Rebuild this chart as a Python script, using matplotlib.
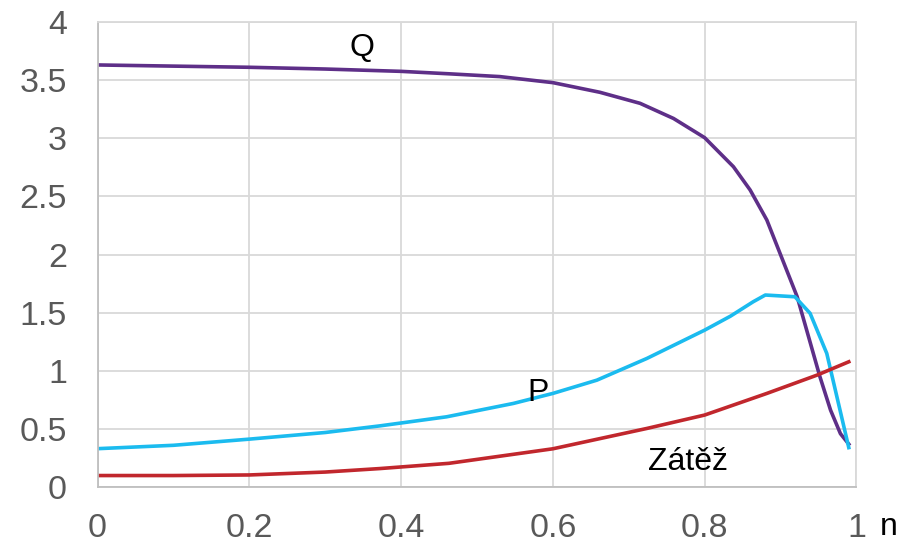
import matplotlib.pyplot as plt

plt.rcParams['font.family'] = ['Liberation Sans', 'DejaVu Sans']

# Q curve
q_n = [0.0, 0.1, 0.2, 0.3, 0.4, 0.463, 0.53, 0.6, 0.662, 0.715, 0.759, 0.8,
       0.838, 0.86, 0.882, 0.922, 0.952, 0.966, 0.979, 0.99]
q_val = [3.63, 3.62, 3.61, 3.595, 3.575, 3.554, 3.53, 3.478, 3.395, 3.30, 3.17, 3.005,
         2.755, 2.555, 2.297, 1.637, 0.949, 0.662, 0.46, 0.37]

# P curve
p_n = [0.0, 0.1, 0.2, 0.3, 0.372, 0.46, 0.548, 0.6, 0.658, 0.724, 0.8,
       0.834, 0.864, 0.88, 0.919, 0.939, 0.961, 0.99]
p_val = [0.331, 0.36, 0.413, 0.47, 0.527, 0.605, 0.72, 0.806, 0.92, 1.107, 1.35,
         1.47, 1.594, 1.652, 1.637, 1.495, 1.15, 0.34]

# Zátěž curve
z_n = [0.0, 0.1, 0.2, 0.3, 0.372, 0.463, 0.6, 0.724, 0.8, 0.882, 0.948, 0.99]
z_val = [0.10, 0.10, 0.105, 0.13, 0.16, 0.205, 0.33, 0.505, 0.62, 0.806, 0.963, 1.078]

x_ticks = [0, 0.2, 0.4, 0.6, 0.8, 1]
x_labels = ['0', '0.2', '0.4', '0.6', '0.8', '1']
y_ticks = [0, 0.5, 1, 1.5, 2, 2.5, 3, 3.5, 4]
y_labels = ['0', '0.5', '1', '1.5', '2', '2.5', '3', '3.5', '4']

fig = plt.figure(figsize=(9.12, 5.48), dpi=100)
ax = fig.add_axes([0.107, 0.111, 0.832, 0.849])

ax.plot(q_n, q_val, color='#5E2F88', lw=2.6)
ax.plot(p_n, p_val, color='#1BBBEF', lw=2.6)
ax.plot(z_n, z_val, color='#C1272D', lw=2.6)

ax.set_xlim(0, 1)
ax.set_ylim(0, 4)
ax.set_xticks(x_ticks)
ax.set_xticklabels(x_labels)
ax.set_yticks(y_ticks)
ax.set_yticklabels(y_labels)
ax.tick_params(axis='both', length=0, labelsize=24.5, labelcolor='#595959')
ax.tick_params(axis='x', pad=18.5)
ax.tick_params(axis='y', pad=22)
ax.grid(True, color='#D9D9D9', lw=1.3)
ax.set_axisbelow(True)
for side in ['top', 'right']:
    ax.spines[side].set_color('#D9D9D9')
    ax.spines[side].set_linewidth(1.3)
for side in ['left', 'bottom']:
    ax.spines[side].set_color('#BFBFBF')
    ax.spines[side].set_linewidth(1.3)

ax.text(0.349, 3.78, 'Q', fontsize=23, ha='center', va='center')
ax.text(0.58, 0.81, 'P', fontsize=23, ha='center', va='center')
ax.text(0.778, 0.215, 'Zátěž', fontsize=23, ha='center', va='center')
fig.text(0.974, 0.038, 'n', fontsize=23, ha='center', va='center')

plt.savefig('out.png')
